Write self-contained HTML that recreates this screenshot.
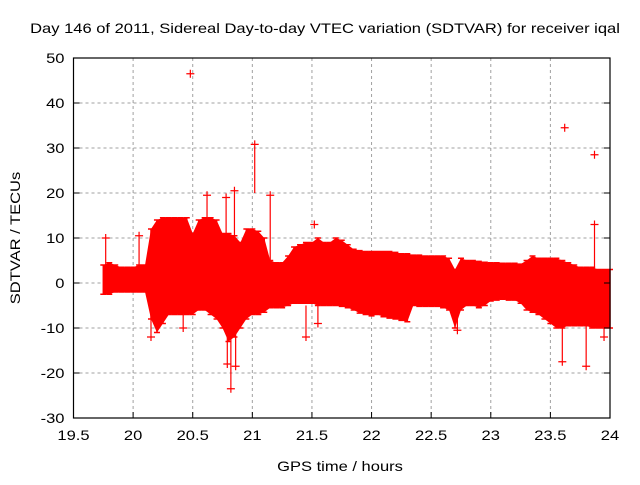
<!DOCTYPE html>
<html><head><meta charset="utf-8"><style>
body{margin:0;background:#fff;}
svg text{font-family:"Liberation Sans",sans-serif;fill:#000;}
</style></head><body>
<svg width="640" height="480" viewBox="0 0 640 480">
<rect width="640" height="480" fill="#fff"/>
<text class="w" x="325" y="33" font-size="14" text-anchor="middle">Day 146 of 2011, Sidereal Day-to-day VTEC variation (SDTVAR) for receiver iqal</text>
<g id="grid"></g>
<g id="data"></g>
<g id="axes"></g>
<text class="w" x="340" y="471" font-size="14" text-anchor="middle">GPS time / hours</text>
<text class="w" transform="translate(20,238) rotate(-90)" font-size="14" text-anchor="middle">SDTVAR / TECUs</text>
</svg>
<script>
const xTicks=[19.5,20,20.5,21,21.5,22,22.5,23,23.5,24];
const xTickLabels=["19.5","20","20.5","21","21.5","22","22.5","23","23.5","24"];
const yTicks=[-30,-20,-10,0,10,20,30,40,50];
const yTickLabels=["-30","-20","-10","0","10","20","30","40","50"];
const times=[19.75,19.80,19.85,19.90,19.95,20.00,20.05,20.10,20.15,20.20,20.25,20.30,20.35,20.40,20.45,20.50,20.55,20.60,20.65,20.70,20.75,20.80,20.85,20.90,20.95,21.00,21.05,21.10,21.15,21.20,21.25,21.30,21.35,21.40,21.45,21.50,21.55,21.60,21.65,21.70,21.75,21.80,21.85,21.90,21.95,22.00,22.05,22.10,22.15,22.20,22.25,22.30,22.35,22.40,22.45,22.50,22.55,22.60,22.65,22.70,22.75,22.80,22.85,22.90,22.95,23.00,23.05,23.10,23.15,23.20,23.25,23.30,23.35,23.40,23.45,23.50,23.55,23.60,23.65,23.70,23.75,23.80,23.85,23.90,23.95,24.00];
const upper=[4,4.5,4,3.5,3.5,3.5,4,4,12,14,14.5,14.5,14.5,14.5,14.5,11,14,14.5,14.5,14,11,11,10.5,9,12,12,11.5,10,5,4.5,4.5,6,8,8.5,9,9,10,9,9,10,9.5,8.5,7.5,7.2,7,7,7,7,7,6.8,6.5,6.5,6.2,6.2,6,6,6,6,5.5,3,5.5,5,5,4.8,4.6,4.5,4.5,4.4,4.4,4.4,4.2,5,6,5.5,5.5,5.5,5.5,5,4.5,4,3.5,3.5,3.5,3,3,3];
const lower=[-2.5,-2.5,-2,-2,-2,-2,-2,-2,-8,-11,-9,-7,-7,-7,-7,-7,-6,-6,-7,-8,-10,-13,-12,-10,-8,-7,-7,-6.5,-5.5,-5.5,-5.5,-5,-4.5,-4.5,-4.5,-4.5,-5,-5,-5,-5,-5.2,-5.5,-6,-6.7,-7,-7.3,-7,-7.5,-7.8,-8,-8.3,-8.6,-5,-5.2,-5.2,-5.2,-5.2,-5.5,-6,-10,-6,-5,-5,-5.5,-5,-4,-3.8,-3.6,-3.8,-3.8,-4.5,-6,-6.5,-7,-8,-9,-10,-10,-9.5,-9.5,-9.5,-9.5,-10,-10,-10,-10];
const spikeTimes=[20.48,21.02,23.62,23.87,20.62,20.78,20.85,21.15,21.52,20.82,20.86,20.79,21.45,20.15,23.60,23.80,23.87,23.95,19.77,20.05,22.72,20.42,21.55];
const spikeLow=[46.5,20,34.5,28.5,10,10,10,5,13,-10,-10,-10,-5,-8,-9,-9,3,-9,4,4,-6,-7,-5];
const spikeHigh=[46.5,30.8,34.5,28.5,19.5,19,20.5,19.5,13,-23.5,-18.5,-18,-12,-12,-17.5,-18.5,13,-12,10,10.5,-10.5,-10,-9];
const X0=73.5,X1=610,Y0=418,Y1=58;
const xs=t=>X0+(t-19.5)/(24-19.5)*(X1-X0);
const ys=v=>Y0-(v+30)/80*(Y0-Y1);
const NS='http://www.w3.org/2000/svg';
function mk(tag,attrs,parent){const e=document.createElementNS(NS,tag);for(const k in attrs)e.setAttribute(k,attrs[k]);parent.appendChild(e);return e;}
const grid=document.getElementById('grid'),axes=document.getElementById('axes'),data=document.getElementById('data');
xTicks.forEach((t,i)=>{
  if(i>0&&i<xTicks.length-1){const g=mk('line',{x1:xs(t),x2:xs(t),y1:Y1,y2:Y0,stroke:'#a0a0a0','stroke-dasharray':'3,3'},grid);
  
  }
  const tk=mk('line',{x1:xs(t),x2:xs(t),y1:Y0,y2:Y0-6,stroke:'#000'},axes);
  
  
  const tx=mk('text',{x:xs(t),y:Y0+22,'font-size':14,'text-anchor':'middle','class':'w'},axes);tx.textContent=xTickLabels[i];
  
  
});
yTicks.forEach((v,i)=>{
  if(i>0&&i<yTicks.length-1){const g=mk('line',{x1:X0,x2:X1,y1:ys(v),y2:ys(v),stroke:'#a0a0a0','stroke-dasharray':'3,3'},grid);
  
  }
  const tk=mk('line',{x1:X0,x2:X0+6,y1:ys(v),y2:ys(v),stroke:'#000'},axes);
  
  
  const tk2=mk('line',{x1:X1,x2:X1-6,y1:ys(v),y2:ys(v),stroke:'#000'},axes);
  
  
  const tx=mk('text',{x:X0-9,y:ys(v)+5,'font-size':14,'text-anchor':'end','class':'w'},axes);tx.textContent=yTickLabels[i];
  
  
});
const frame=mk('rect',{x:X0,y:Y1,width:X1-X0,height:Y0-Y1,fill:'none',stroke:'#000','stroke-width':1.2},axes);


let pts=times.map((t,i)=>xs(t)+','+ys(upper[i]));
for(let i=times.length-1;i>=0;i--)pts.push(xs(times[i])+','+ys(lower[i]));
const band=mk('polygon',{points:pts.join(' '),fill:'#ff0000'},data);


times.forEach((t,i)=>{
  const x=xs(t);
  const b=mk('path',{d:`M${x},${ys(upper[i])}V${ys(lower[i])}M${x-3},${ys(upper[i])}h6M${x-3},${ys(lower[i])}h6`,stroke:'#ff0000','stroke-width':1.5,fill:'none'},data);
  
  
});
spikeTimes.forEach((t,i)=>{
  const x=xs(t),a=ys(spikeLow[i]),b=ys(spikeHigh[i]);
  const s=mk('path',{d:`M${x},${a}V${b}M${x-3},${b}h6M${x-4},${b}h8M${x},${b-4}v8`,stroke:'#ff0000','stroke-width':1.2,fill:'none'},data);
  
  
});
document.querySelectorAll('text.w').forEach(t=>{
  const w=t.getComputedTextLength();
  t.setAttribute('textLength',(w*1.18).toFixed(1));
  t.setAttribute('lengthAdjust','spacingAndGlyphs');
});
</script>
</body></html>
